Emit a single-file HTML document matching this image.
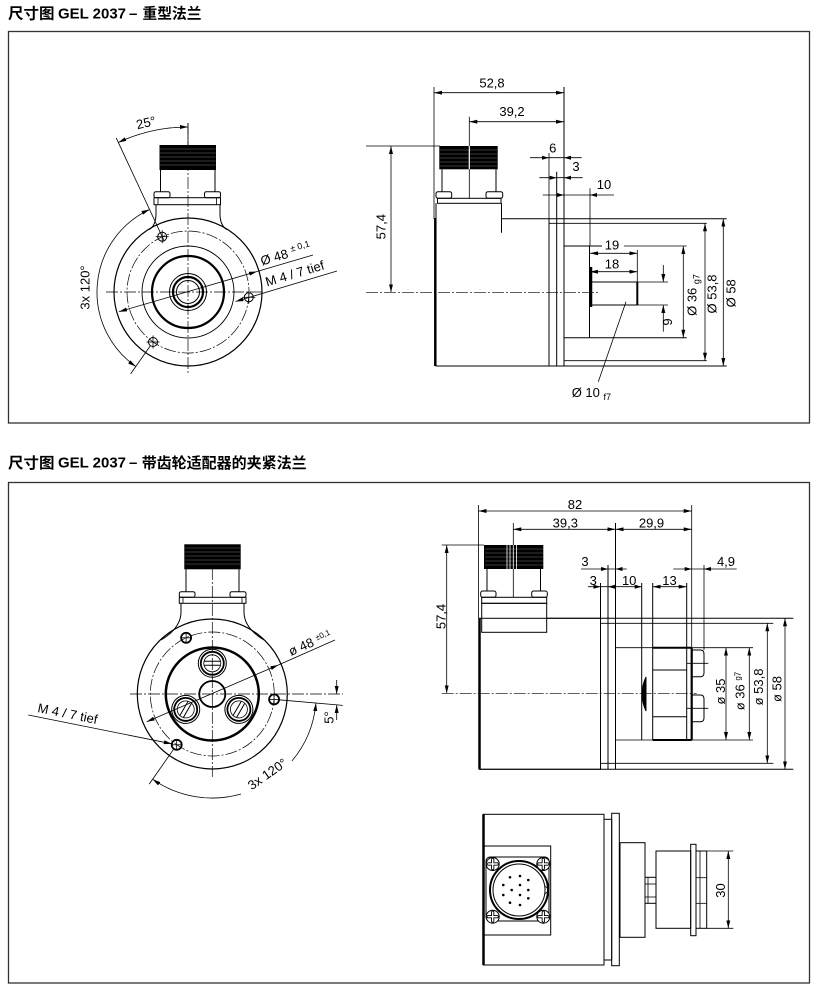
<!DOCTYPE html>
<html><head><meta charset="utf-8"><style>
html,body{margin:0;padding:0;background:#fff;}
svg{display:block;}
text{font-family:"Liberation Sans","Noto Sans CJK SC",sans-serif;fill:#000;stroke:none;}
.t{font-size:13px;}
.h{font-size:15px;font-weight:bold;}
.cl{stroke-dasharray:12 2 2 2;stroke-width:0.7;}
.d{stroke-width:0.8;}
</style></head><body>
<svg width="817" height="990" viewBox="0 0 817 990" xmlns="http://www.w3.org/2000/svg">
<defs>
<marker id="a" viewBox="0 0 8 4" refX="8" refY="2" markerWidth="8" markerHeight="4" markerUnits="userSpaceOnUse" orient="auto-start-reverse"><path d="M0,0 L8,2 L0,4 z" fill="#000" stroke="none"/></marker>
</defs>

<!-- Titles -->
<text class="h" x="8" y="18.5" textLength="46.5" lengthAdjust="spacingAndGlyphs">尺寸图</text>
<text class="h" x="58" y="18.3" textLength="68" lengthAdjust="spacingAndGlyphs">GEL 2037</text>
<text class="h" x="129" y="18.3">–</text>
<text class="h" x="142.5" y="18.5" textLength="59" lengthAdjust="spacingAndGlyphs">重型法兰</text>

<text class="h" x="8" y="468" textLength="46.5" lengthAdjust="spacingAndGlyphs">尺寸图</text>
<text class="h" x="58" y="467.7" textLength="68" lengthAdjust="spacingAndGlyphs">GEL 2037</text>
<text class="h" x="129" y="467.7">–</text>
<text class="h" x="141.7" y="468" textLength="165" lengthAdjust="spacingAndGlyphs">带齿轮适配器的夹紧法兰</text>

<!-- Frames -->
<rect x="8.5" y="31.5" width="801" height="391.5" fill="none" stroke="#333" stroke-width="1.3"/>
<rect x="8.5" y="482.5" width="801" height="500.5" fill="none" stroke="#333" stroke-width="1.3"/>

<g stroke="#000" fill="none" stroke-width="1">

<!-- ================= TOP LEFT ================= -->
<line class="cl" x1="188" y1="123" x2="188" y2="374"/>
<line class="cl" x1="106" y1="292" x2="262" y2="292"/>
<circle cx="188" cy="292" r="74" stroke-width="1.2"/>
<circle class="cl" cx="188" cy="292" r="61"/>
<circle cx="188" cy="292" r="46" stroke-width="0.9"/>
<circle cx="188" cy="292" r="36" stroke-width="2.2"/>
<circle cx="188" cy="292" r="18.5"/>
<circle cx="188" cy="292" r="15" stroke-width="2.2"/>
<circle cx="188" cy="292" r="11.5"/>
<!-- holes -->
<circle cx="162.2" cy="236.7" r="4.5"/>
<line class="d" x1="155.7" y1="236.7" x2="168.7" y2="236.7"/><line class="d" x1="162.2" y1="230.2" x2="162.2" y2="243.2"/>
<circle cx="248.8" cy="297.3" r="4.5"/>
<line class="d" x1="242.3" y1="297.3" x2="255.3" y2="297.3"/><line class="d" x1="248.8" y1="290.8" x2="248.8" y2="303.8"/>
<circle cx="153" cy="342" r="4.5"/>
<line class="d" x1="146.5" y1="342" x2="159.5" y2="342"/><line class="d" x1="153" y1="335.5" x2="153" y2="348.5"/>
<!-- connector -->
<rect x="159.5" y="145" width="56.5" height="25" fill="#000" stroke="none"/>
<g stroke="#fff" stroke-width="0.5" opacity="0.45">
<line x1="160" y1="149" x2="215.5" y2="149"/><line x1="160" y1="153" x2="215.5" y2="153"/><line x1="160" y1="157" x2="215.5" y2="157"/><line x1="160" y1="161" x2="215.5" y2="161"/><line x1="160" y1="165" x2="215.5" y2="165"/>
</g>
<line x1="160.5" y1="170" x2="160.5" y2="192"/>
<line x1="215" y1="170" x2="215" y2="192"/>
<rect x="154" y="191.7" width="16" height="6" rx="1.8" fill="#fff"/>
<rect x="204.5" y="191.7" width="16" height="6" rx="1.8" fill="#fff"/>
<rect x="154" y="197.7" width="66.5" height="7"/>
<line class="d" x1="158" y1="197.7" x2="158" y2="204.7"/><line class="d" x1="216.5" y1="197.7" x2="216.5" y2="204.7"/>
<path d="M156,204.7 L156,214 Q156,225 149.5,229.5"/>
<path d="M220,204.7 L220,214 Q220,225 226.5,229.5"/>
<!-- 25° -->
<line class="d" x1="164.3" y1="241.2" x2="116.2" y2="137.9"/>
<line class="d" x1="188" y1="123" x2="188" y2="145"/>
<path class="d" d="M118.3,142.5 A165,165 0 0 1 188,127" marker-start="url(#a)" marker-end="url(#a)"/>
<text class="t" text-anchor="middle" transform="translate(147,127) rotate(-13)">25°</text>
<!-- 3x120 -->
<path class="d" d="M149.5,209.5 A91,91 0 0 0 135.8,366.5" marker-start="url(#a)" marker-end="url(#a)"/>
<line class="d" x1="150.1" y1="346.1" x2="130.6" y2="373.9"/>
<text class="t" text-anchor="middle" transform="translate(89.5,287.5) rotate(-90)">3x 120°</text>
<!-- Ø48 -->
<line class="d" x1="119" y1="311.7" x2="257" y2="271.5" marker-start="url(#a)" marker-end="url(#a)"/>
<line class="d" x1="257" y1="271.5" x2="313" y2="255"/>
<text class="t" transform="translate(262,265.5) rotate(-16.3)">Ø 48 <tspan font-size="9" dy="-5">± 0,1</tspan></text>
<!-- M4 -->
<line class="d" x1="337" y1="271" x2="235.5" y2="301.5" marker-end="url(#a)"/>
<text class="t" transform="translate(267,286.5) rotate(-16.7)">M 4 / 7 tief</text>

<!-- ================= TOP RIGHT ================= -->
<line class="d" x1="434" y1="87" x2="434" y2="219"/>
<line x1="564" y1="87" x2="564" y2="366"/>
<line class="d" x1="434" y1="92.7" x2="564" y2="92.7" marker-start="url(#a)" marker-end="url(#a)"/>
<text class="t" x="492" y="87.7" text-anchor="middle">52,8</text>
<line class="d" x1="469.3" y1="116.7" x2="469.3" y2="146"/>
<line class="d" x1="469.3" y1="121.7" x2="564" y2="121.7" marker-start="url(#a)" marker-end="url(#a)"/>
<text class="t" x="512" y="116" text-anchor="middle">39,2</text>
<line class="d" x1="366" y1="146" x2="440" y2="146"/>
<line class="d" x1="391" y1="146" x2="391" y2="292.3" marker-start="url(#a)" marker-end="url(#a)"/>
<text class="t" text-anchor="middle" transform="translate(385.5,226.7) rotate(-90)">57,4</text>
<line class="cl" x1="366" y1="292.3" x2="598" y2="292.3"/>
<!-- connector -->
<rect x="439.3" y="146" width="58.4" height="23.3" fill="#000" stroke="none"/>
<g stroke="#fff" stroke-width="0.5" opacity="0.45">
<line x1="440" y1="150" x2="497" y2="150"/><line x1="440" y1="154" x2="497" y2="154"/><line x1="440" y1="158" x2="497" y2="158"/><line x1="440" y1="162" x2="497" y2="162"/><line x1="440" y1="166" x2="497" y2="166"/>
</g>
<line x1="469.3" y1="146" x2="469.3" y2="169.3" stroke="#fff" stroke-width="1.2"/>
<line x1="442" y1="169.3" x2="442" y2="191.7"/>
<line x1="496" y1="169.3" x2="496" y2="191.7"/>
<line class="d" x1="469.3" y1="169.3" x2="469.3" y2="198"/>
<rect x="436" y="191.7" width="15.7" height="6.6" rx="2" fill="#fff"/>
<rect x="486" y="191.7" width="16.7" height="6.6" rx="2" fill="#fff"/>
<rect x="437.5" y="198.3" width="63.5" height="5"/>
<!-- body -->
<polyline points="436,203.3 436,366 549,366 549,218.7 501.5,218.7"/>
<line x1="501.5" y1="203.3" x2="501.5" y2="232.7"/>
<line x1="435.3" y1="218" x2="435.3" y2="366" stroke-width="2.5"/>
<line class="d" x1="549" y1="153" x2="549" y2="218.7"/>
<!-- flange -->
<line x1="556.7" y1="171.7" x2="556.7" y2="366"/>
<line x1="549" y1="218.7" x2="726.7" y2="218.7"/>
<line class="d" x1="549" y1="223.3" x2="706.7" y2="223.3"/>
<line x1="549" y1="366" x2="726.7" y2="366"/>
<line class="d" x1="564" y1="360.7" x2="706.7" y2="360.7"/>
<!-- spigot -->
<line x1="564" y1="246" x2="602" y2="246"/>
<line class="d" x1="624" y1="246" x2="686.7" y2="246"/>
<text class="t" x="612" y="249.5" text-anchor="middle">19</text>
<line x1="564" y1="337.7" x2="686.7" y2="337.7"/>
<line x1="589.5" y1="246" x2="589.5" y2="337.7"/>
<rect x="589.5" y="282" width="47.8" height="23"/>
<line x1="637.3" y1="282" x2="637.3" y2="305" stroke-width="2"/>
<line x1="591" y1="267" x2="591" y2="307" stroke-width="2.5"/>
<line class="d" x1="590" y1="253.3" x2="637.3" y2="253.3" marker-start="url(#a)" marker-end="url(#a)"/>
<line class="d" x1="637.3" y1="250" x2="637.3" y2="282"/>
<line class="d" x1="590" y1="271.7" x2="637.3" y2="271.7" marker-start="url(#a)" marker-end="url(#a)"/>
<text class="t" x="612" y="268.3" text-anchor="middle">18</text>
<line class="d" x1="637.3" y1="282" x2="668" y2="282"/>
<line class="d" x1="637.3" y1="305" x2="668" y2="305"/>
<line class="d" x1="663.3" y1="265" x2="663.3" y2="282" marker-end="url(#a)"/>
<line class="d" x1="663.3" y1="331.7" x2="663.3" y2="305" marker-end="url(#a)"/>
<text class="t" text-anchor="middle" transform="translate(672,322) rotate(-90)">9</text>
<line class="d" x1="683.3" y1="246" x2="683.3" y2="337.7" marker-start="url(#a)" marker-end="url(#a)"/>
<text class="t" text-anchor="middle" transform="translate(696.5,295) rotate(-90)">Ø 36 <tspan font-size="9" dy="3">g7</tspan></text>
<line class="d" x1="705" y1="223.3" x2="705" y2="360.7" marker-start="url(#a)" marker-end="url(#a)"/>
<text class="t" text-anchor="middle" transform="translate(716.5,294) rotate(-90)">Ø 53,8</text>
<line class="d" x1="723.3" y1="218.7" x2="723.3" y2="366" marker-start="url(#a)" marker-end="url(#a)"/>
<text class="t" text-anchor="middle" transform="translate(735.5,293.3) rotate(-90)">Ø 58</text>
<line class="d" x1="626" y1="301.7" x2="598.3" y2="381.7"/>
<text class="t" x="571.7" y="397">Ø 10 <tspan font-size="9" dy="3">f7</tspan></text>
<!-- small dims -->
<line class="d" x1="530" y1="157.7" x2="581.7" y2="157.7"/>
<polygon points="549,157.7 542,155.7 542,159.7" fill="#000" stroke="none"/>
<polygon points="564,157.7 571,155.7 571,159.7" fill="#000" stroke="none"/>
<text class="t" x="552.7" y="152.3" text-anchor="middle">6</text>
<line class="d" x1="539.3" y1="177.7" x2="582.7" y2="177.7"/>
<polygon points="556.7,177.7 549.7,175.7 549.7,179.7" fill="#000" stroke="none"/>
<polygon points="564,177.7 571,175.7 571,179.7" fill="#000" stroke="none"/>
<text class="t" x="576" y="171" text-anchor="middle">3</text>
<line class="d" x1="542.7" y1="195" x2="614" y2="195"/>
<polygon points="564,195 557,193 557,197" fill="#000" stroke="none"/>
<polygon points="590,195 597,193 597,197" fill="#000" stroke="none"/>
<text class="t" x="604" y="189" text-anchor="middle">10</text>
<line class="d" x1="590" y1="188.3" x2="590" y2="246"/>

<!-- ================= BOTTOM LEFT ================= -->
<line class="cl" x1="212.3" y1="568" x2="212.3" y2="777"/>
<line class="cl" x1="130" y1="694" x2="343" y2="694"/>
<circle cx="212.3" cy="694" r="75" stroke-width="1.2"/>
<circle class="cl" cx="212.3" cy="694" r="62"/>
<circle cx="212.3" cy="694" r="46.5" stroke-width="2.5"/>
<circle cx="212.3" cy="694" r="13" stroke-width="1.8"/>
<g transform="translate(212.3,663.3)">
<circle r="14"/><circle r="11.5" stroke-width="1.8"/><circle r="8.5" stroke-width="0.8"/>
<line x1="-8" y1="-2" x2="8" y2="-2"/><line x1="-8" y1="2" x2="8" y2="2"/>
</g>
<g transform="translate(185.7,709.4) rotate(-60)">
<circle r="14"/><circle r="11.5" stroke-width="1.8"/><circle r="8.5" stroke-width="0.8"/>
<line x1="-8" y1="-2" x2="8" y2="-2"/><line x1="-8" y1="2" x2="8" y2="2"/>
</g>
<g transform="translate(238.9,709.4) rotate(-60)">
<circle r="14"/><circle r="11.5" stroke-width="1.8"/><circle r="8.5" stroke-width="0.8"/>
<line x1="-8" y1="-2" x2="8" y2="-2"/><line x1="-8" y1="2" x2="8" y2="2"/>
</g>
<!-- holes -->
<circle cx="186.1" cy="637.8" r="5" stroke-width="1.8"/>
<line class="d" x1="181" y1="637.8" x2="191.2" y2="637.8"/><line class="d" x1="186.1" y1="632.7" x2="186.1" y2="642.9"/>
<circle cx="274.1" cy="699.4" r="5" stroke-width="1.8"/>
<line class="d" x1="269" y1="699.4" x2="279.2" y2="699.4"/><line class="d" x1="274.1" y1="694.3" x2="274.1" y2="704.5"/>
<circle cx="176.7" cy="744.8" r="5" stroke-width="1.8"/>
<line class="d" x1="171.6" y1="744.8" x2="181.8" y2="744.8"/><line class="d" x1="176.7" y1="739.7" x2="176.7" y2="749.9"/>
<!-- connector -->
<rect x="184.3" y="544.3" width="56.4" height="25" fill="#000" stroke="none"/>
<g stroke="#fff" stroke-width="0.5" opacity="0.45">
<line x1="185" y1="548" x2="240" y2="548"/><line x1="185" y1="552" x2="240" y2="552"/><line x1="185" y1="556" x2="240" y2="556"/><line x1="185" y1="560" x2="240" y2="560"/><line x1="185" y1="564" x2="240" y2="564"/>
</g>
<line x1="186" y1="569.3" x2="186" y2="591.7"/>
<line x1="239" y1="569.3" x2="239" y2="591.7"/>
<rect x="179.3" y="591.7" width="15.7" height="5.6" rx="1.8" fill="#fff"/>
<rect x="230" y="591.7" width="16" height="5.6" rx="1.8" fill="#fff"/>
<rect x="179.3" y="597.3" width="66.7" height="6"/>
<line class="d" x1="183" y1="597.3" x2="183" y2="603.3"/><line class="d" x1="242" y1="597.3" x2="242" y2="603.3"/>
<path d="M181,603.3 L181,612 Q181,628 161,640"/>
<path d="M244,603.3 L244,612 Q244,628 264,640"/>
<!-- Ø48 -->
<line class="d" x1="146.7" y1="721.7" x2="278.3" y2="665" marker-start="url(#a)" marker-end="url(#a)"/>
<line class="d" x1="278.3" y1="665" x2="335" y2="640"/>
<text class="t" transform="translate(291,656) rotate(-23.5)">ø 48 <tspan font-size="8" dy="-4">±0,1</tspan></text>
<!-- M4 -->
<line class="d" x1="28.3" y1="715" x2="171.8" y2="743.8" marker-end="url(#a)"/>
<text class="t" transform="translate(37,712) rotate(11.4)">M 4 / 7 tief</text>
<!-- 5° -->
<line class="d" x1="279" y1="699.8" x2="342.8" y2="705.4"/>
<line class="d" x1="336.7" y1="680" x2="336.7" y2="694" marker-end="url(#a)"/>
<line class="d" x1="336.7" y1="720" x2="336.7" y2="705" marker-end="url(#a)"/>
<text class="t" text-anchor="middle" transform="translate(333.5,717.5) rotate(-90)">5°</text>
<!-- 3x120 -->
<path class="d" d="M315.9,703.1 A104,104 0 0 1 292,760.9" marker-start="url(#a)"/>
<path class="d" d="M241,794 A104,104 0 0 1 152.6,779.2" marker-end="url(#a)"/>
<line class="d" x1="173.3" y1="749.7" x2="149.2" y2="784.1"/>
<text class="t" text-anchor="middle" transform="translate(267.3,774) rotate(-35) translate(0,4.5)">3x 120°</text>

<!-- ================= BOTTOM RIGHT ================= -->
<line class="d" x1="478.5" y1="505" x2="478.5" y2="618"/>
<line class="d" x1="478.5" y1="511" x2="691.7" y2="511" marker-start="url(#a)" marker-end="url(#a)"/>
<text class="t" x="575" y="509" text-anchor="middle">82</text>
<line class="d" x1="513.3" y1="523" x2="513.3" y2="545"/>
<line class="d" x1="513.3" y1="529.3" x2="615.5" y2="529.3" marker-start="url(#a)" marker-end="url(#a)"/>
<line class="d" x1="615.5" y1="529.3" x2="691.7" y2="529.3" marker-start="url(#a)" marker-end="url(#a)"/>
<text class="t" x="565.3" y="527.3" text-anchor="middle">39,3</text>
<text class="t" x="651.5" y="527.3" text-anchor="middle">29,9</text>
<line class="d" x1="441.7" y1="545" x2="484" y2="545"/>
<line class="d" x1="446.7" y1="545" x2="446.7" y2="693.3" marker-start="url(#a)" marker-end="url(#a)"/>
<text class="t" text-anchor="middle" transform="translate(445.5,616.5) rotate(-90)">57,4</text>
<line class="cl" x1="441.7" y1="693.3" x2="696.7" y2="693.3"/>
<!-- connector -->
<rect x="484" y="545" width="59.3" height="24" fill="#000" stroke="none"/>
<g stroke="#fff" stroke-width="0.5" opacity="0.45">
<line x1="485" y1="549" x2="543" y2="549"/><line x1="485" y1="553" x2="543" y2="553"/><line x1="485" y1="557" x2="543" y2="557"/><line x1="485" y1="561" x2="543" y2="561"/><line x1="485" y1="565" x2="543" y2="565"/>
</g>
<g stroke="#fff" stroke-width="0.8">
<line x1="507" y1="545" x2="507" y2="569"/><line x1="510" y1="545" x2="510" y2="569"/><line x1="513.3" y1="545" x2="513.3" y2="569"/><line x1="516.5" y1="545" x2="516.5" y2="569"/>
</g>
<line x1="487" y1="569" x2="487" y2="591"/>
<line x1="540.5" y1="569" x2="540.5" y2="591"/>
<line class="d" x1="513.3" y1="569" x2="513.3" y2="597"/>
<rect x="480.7" y="591" width="15.3" height="6.3" rx="2" fill="#fff"/>
<rect x="531.7" y="591" width="15.6" height="6.3" rx="2" fill="#fff"/>
<rect x="481.7" y="597.3" width="65" height="6"/>
<rect x="481.7" y="603.3" width="65" height="29"/>
<!-- body -->
<rect x="479.3" y="618.3" width="121.2" height="151"/>
<line x1="479.5" y1="618" x2="479.5" y2="769.3" stroke-width="2.5"/>
<line x1="546.7" y1="618.3" x2="793.3" y2="618.3"/>
<line x1="479.3" y1="769.3" x2="793.3" y2="769.3"/>
<line class="d" x1="600.5" y1="623.3" x2="773.3" y2="623.3"/>
<line class="d" x1="600.5" y1="763.3" x2="773.3" y2="763.3"/>
<!-- flange lines -->
<line x1="600.5" y1="583" x2="600.5" y2="769.3"/>
<line x1="608" y1="565" x2="608" y2="769.3"/>
<line x1="615.5" y1="523" x2="615.5" y2="769.3"/>
<!-- hub -->
<line x1="615.5" y1="647.7" x2="753" y2="647.7" class="d"/>
<line x1="615.5" y1="740" x2="753" y2="740" class="d"/>
<line x1="641.7" y1="583" x2="641.7" y2="740"/>
<path d="M646,677 Q638,694 646,711 Z" fill="#000"/>
<line x1="652.7" y1="583" x2="652.7" y2="740"/>
<line x1="686.7" y1="583" x2="686.7" y2="740"/>
<line x1="691.7" y1="505" x2="691.7" y2="647.7" class="d"/>
<line x1="691.7" y1="647.7" x2="691.7" y2="740" stroke-width="2.2"/>
<line x1="652.7" y1="647.7" x2="691.7" y2="647.7" stroke-width="2"/>
<line x1="652.7" y1="740" x2="691.7" y2="740" stroke-width="2"/>
<line x1="652.7" y1="670" x2="686.7" y2="670"/>
<line x1="652.7" y1="716.7" x2="686.7" y2="716.7"/>
<path d="M691.7,650 L700.5,650 Q704,650 704,654 L704,672.7 Q704,676.7 700.5,676.7 L691.7,676.7"/>
<path d="M691.7,695 L700.5,695 Q704,695 704,699 L704,717.7 Q704,721.7 700.5,721.7 L691.7,721.7"/>
<line class="d" x1="686.7" y1="663.3" x2="708.3" y2="663.3"/>
<line class="d" x1="686.7" y1="708.3" x2="708.3" y2="708.3"/>
<line class="d" x1="704" y1="565" x2="704" y2="650"/>
<!-- small dims -->
<line class="d" x1="581" y1="569" x2="626.7" y2="569"/>
<polygon points="608,569 601,567 601,571" fill="#000" stroke="none"/>
<polygon points="615.5,569 622.5,567 622.5,571" fill="#000" stroke="none"/>
<text class="t" x="585" y="566" text-anchor="middle">3</text>
<line class="d" x1="588" y1="586.7" x2="641.7" y2="586.7"/>
<polygon points="600.5,586.7 593.5,584.7 593.5,588.7" fill="#000" stroke="none"/>
<polygon points="608,586.7 615,584.7 615,588.7" fill="#000" stroke="none"/>
<polygon points="641.7,586.7 634.7,584.7 634.7,588.7" fill="#000" stroke="none"/>
<text class="t" x="593.3" y="585" text-anchor="middle">3</text>
<text class="t" x="629.2" y="585" text-anchor="middle">10</text>
<line class="d" x1="652.7" y1="586.7" x2="686.7" y2="586.7" marker-start="url(#a)" marker-end="url(#a)"/>
<text class="t" x="669.5" y="585" text-anchor="middle">13</text>
<line class="d" x1="673.3" y1="569" x2="736.7" y2="569"/>
<polygon points="691.7,569 684.7,567 684.7,571" fill="#000" stroke="none"/>
<polygon points="704,569 711,567 711,571" fill="#000" stroke="none"/>
<text class="t" x="726" y="566" text-anchor="middle">4,9</text>
<!-- vertical dims -->
<line class="d" x1="726" y1="647.7" x2="726" y2="740" marker-start="url(#a)" marker-end="url(#a)"/>
<text class="t" text-anchor="middle" transform="translate(725,691.5) rotate(-90)">ø 35</text>
<line class="d" x1="749.3" y1="647.7" x2="749.3" y2="740" marker-start="url(#a)" marker-end="url(#a)"/>
<text class="t" text-anchor="middle" transform="translate(744.5,691) rotate(-90)">ø 36 <tspan font-size="8" dy="-4">g7</tspan></text>
<line class="d" x1="767.3" y1="623.3" x2="767.3" y2="763.3" marker-start="url(#a)" marker-end="url(#a)"/>
<text class="t" text-anchor="middle" transform="translate(763,687) rotate(-90)">ø 53,8</text>
<line class="d" x1="785" y1="618.3" x2="785" y2="769.3" marker-start="url(#a)" marker-end="url(#a)"/>
<text class="t" text-anchor="middle" transform="translate(781.5,689) rotate(-90)">ø 58</text>

<!-- ================= BOTTOM VIEW ================= -->
<rect x="483.3" y="814.3" width="120.7" height="150.7"/>
<line x1="483.5" y1="814.3" x2="483.5" y2="965" stroke-width="2.5"/>
<rect x="604" y="819.3" width="7.7" height="140.7"/>
<rect x="611.7" y="813.3" width="7.6" height="152.4"/>
<rect x="483.3" y="846" width="67.4" height="89"/>
<rect x="486" y="857" width="63" height="64" rx="4"/>
<circle cx="519" cy="890" r="29" stroke-width="2" fill="#fff"/>
<circle cx="519" cy="890" r="26"/>
<path d="M545,886 L549,890 L545,894" stroke-width="0.8"/>
<g fill="#000" stroke="none">
<circle cx="510" cy="877.3" r="1.3"/><circle cx="520" cy="876" r="1.3"/><circle cx="528.3" cy="880" r="1.3"/>
<circle cx="503.3" cy="885" r="1.3"/><circle cx="511.7" cy="890" r="1.3"/><circle cx="520" cy="885" r="1.3"/>
<circle cx="528.3" cy="890" r="1.3"/><circle cx="503.3" cy="895" r="1.3"/><circle cx="520" cy="895" r="1.3"/>
<circle cx="528.3" cy="898.3" r="1.3"/><circle cx="510" cy="902.7" r="1.3"/><circle cx="520" cy="905" r="1.3"/>
</g>
<g>
<circle cx="492.7" cy="864" r="6.5" fill="#fff"/><circle cx="543.3" cy="864" r="6.5" fill="#fff"/>
<circle cx="492.7" cy="916.7" r="6.5" fill="#fff"/><circle cx="543.3" cy="916.7" r="6.5" fill="#fff"/>
</g>
<g stroke-width="3.2" stroke-linecap="round">
<path d="M488.2,864 H497.2 M492.7,859.5 V868.5 M538.8,864 H547.8 M543.3,859.5 V868.5 M488.2,916.7 H497.2 M492.7,912.2 V921.2 M538.8,916.7 H547.8 M543.3,912.2 V921.2"/>
</g>
<g stroke-width="1.4" stroke="#fff" stroke-linecap="round">
<path d="M488.2,864 H497.2 M492.7,859.5 V868.5 M538.8,864 H547.8 M543.3,859.5 V868.5 M488.2,916.7 H497.2 M492.7,912.2 V921.2 M538.8,916.7 H547.8 M543.3,912.2 V921.2"/>
</g>
<rect x="620" y="842.7" width="25" height="94.6"/>
<rect x="645" y="877.3" width="11" height="26"/>
<line class="d" x1="648" y1="877.3" x2="648" y2="903.3"/>
<line class="d" x1="645" y1="884" x2="656" y2="884"/>
<line class="d" x1="645" y1="897" x2="656" y2="897"/>
<rect x="656" y="851" width="34.7" height="77.3"/>
<rect x="690.7" y="844.3" width="5.3" height="91.4"/>
<rect x="696" y="851" width="10.7" height="77.3"/>
<line class="d" x1="700" y1="851" x2="700" y2="928.3"/>
<line class="d" x1="696" y1="877.7" x2="706.7" y2="877.7"/>
<line class="d" x1="696" y1="903.3" x2="706.7" y2="903.3"/>
<line class="d" x1="706.7" y1="851" x2="733.3" y2="851"/>
<line class="d" x1="706.7" y1="928.3" x2="733.3" y2="928.3"/>
<line class="d" x1="728.3" y1="851" x2="728.3" y2="928.3" marker-start="url(#a)" marker-end="url(#a)"/>
<text class="t" text-anchor="middle" transform="translate(725,890.5) rotate(-90)">30</text>

</g>
</svg>
</body></html>
